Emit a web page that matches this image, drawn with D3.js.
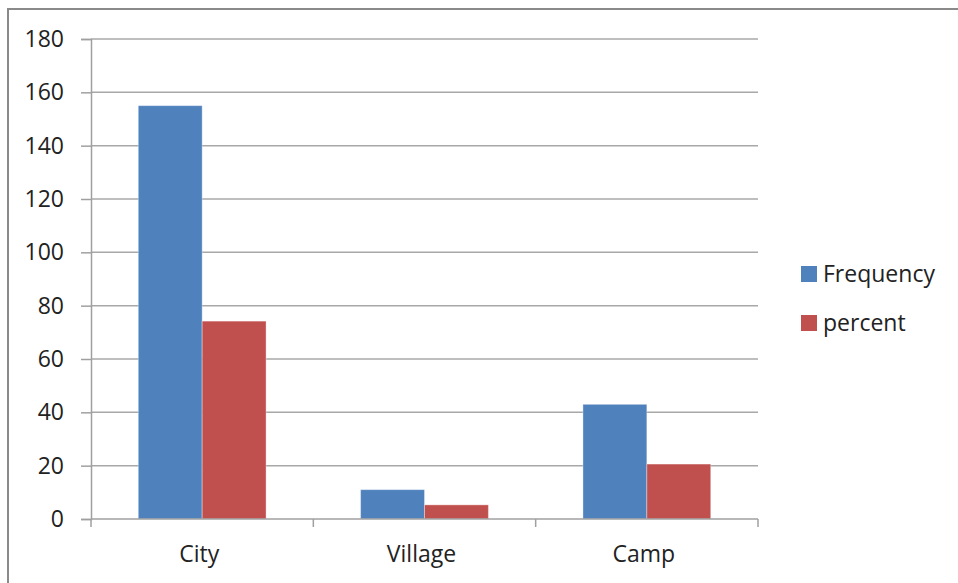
<!DOCTYPE html>
<html><head><meta charset="utf-8">
<script src="https://cdn.jsdelivr.net/npm/d3@7"></script>
<style>
html,body{margin:0;padding:0;background:#fff;}
svg{display:block;}
text{font-family:"Open Sans",sans-serif;fill:#222;}
</style></head>
<body>
<svg id="chart" width="958" height="583"></svg>
<script>
const categories = ["City", "Village", "Camp"];
const seriesNames = ["Frequency", "percent"];
const frequency = [155, 11, 43];
const percent = [74.2, 5.3, 20.6];
const yTicks = [0, 20, 40, 60, 80, 100, 120, 140, 160, 180];
const colors = ["#4F81BD", "#C0504D"];

(function () {
const svg = d3.select("#chart");
// outer frame
svg.append("rect").attr("x", 8).attr("y", 9).attr("width", 1000).attr("height", 700)
  .attr("fill", "none").attr("stroke", "#8a8a8a").attr("stroke-width", 2);

const pLeft = 91, pRight = 758, pTop = 39, pBottom = 519;
const x = d3.scaleBand().domain(categories).range([pLeft, pRight]).paddingInner(0).paddingOuter(0);
const y = d3.scaleLinear().domain([0, 180]).range([pBottom, pTop]);
const xs = d3.scaleBand().domain(seriesNames).range([0, x.bandwidth()]).paddingInner(0).paddingOuter(0.74);

// gridlines
svg.append("g").selectAll("line").data(yTicks.filter(d => d > 0)).join("line")
  .attr("x1", pLeft).attr("x2", pRight)
  .attr("y1", d => y(d)).attr("y2", d => y(d))
  .attr("stroke", "#a8a8a8").attr("stroke-width", 1.5);

// bars
const data = [frequency, percent];
const g = svg.append("g");
categories.forEach((c, i) => {
  seriesNames.forEach((s, j) => {
    g.append("rect")
      .attr("x", x(c) + xs(s))
      .attr("y", y(data[j][i]))
      .attr("width", xs.bandwidth())
      .attr("height", y(0) - y(data[j][i]))
      .attr("fill", colors[j])
      .attr("stroke", "rgba(255,255,255,0.35)").attr("stroke-width", 1);
  });
});

// y axis
const yAxis = d3.axisLeft(y).tickValues(yTicks).tickSize(10).tickPadding(17).tickFormat(d3.format("d"));
const ya = svg.append("g").attr("transform", `translate(${pLeft},0)`).call(yAxis);
ya.select(".domain").attr("stroke", "#a0a0a0").attr("stroke-width", 1.5);
ya.selectAll(".tick line").attr("stroke", "#a0a0a0").attr("stroke-width", 1.5);
ya.selectAll(".tick text").attr("font-size", 23).attr("font-family", "Open Sans").attr("fill", "#222");

// x axis
const xa = svg.append("g").attr("transform", `translate(0,${pBottom})`);
xa.append("line").attr("x1", pLeft).attr("x2", pRight).attr("stroke", "#a0a0a0").attr("stroke-width", 1.5);
const bounds = categories.map(c => x(c)).concat([pRight]);
xa.selectAll("line.tk").data(bounds).join("line").attr("class", "tk")
  .attr("x1", d => d).attr("x2", d => d).attr("y1", 0).attr("y2", 8)
  .attr("stroke", "#a0a0a0").attr("stroke-width", 1.5);
xa.selectAll("text").data(categories).join("text")
  .attr("x", d => x(d) + x.bandwidth() / 2 - 3).attr("y", 43)
  .attr("text-anchor", "middle").attr("font-size", 23).text(d => d);

// legend
const lg = svg.append("g");
seriesNames.forEach((s, j) => {
  const ly = 266 + j * 49;
  lg.append("rect").attr("x", 801).attr("y", ly).attr("width", 16).attr("height", 16).attr("fill", colors[j]);
  lg.append("text").attr("x", 823).attr("y", ly + 16).attr("font-size", 23).text(s);
});
})();
</script>
</body></html>
